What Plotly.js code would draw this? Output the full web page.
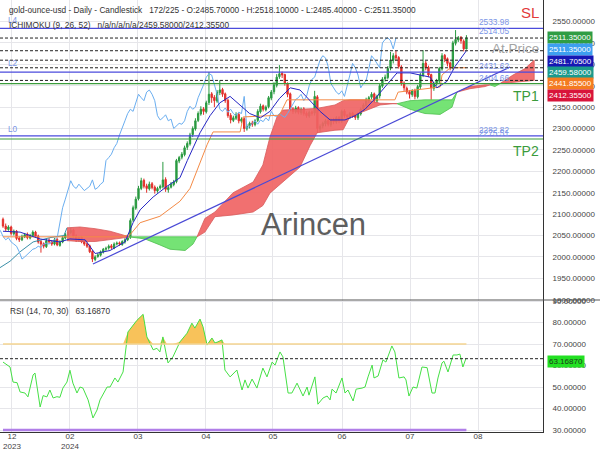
<!DOCTYPE html>
<html><head><meta charset="utf-8">
<script src="https://cdn.plot.ly/plotly-3.0.1.min.js"></script>
<style>html,body{margin:0;padding:0;background:#fff}#chart{width:600px;height:450px}</style>
</head><body><div id="chart"></div>
<script>
// ---------------- DATA ----------------
const openP = [2088,2072,2064,2070,2054,2060,2044,2040,2047,2053,2044,2050,2058,2049,2036,2031,2024,2039,2036,2030,2041,2027,2035,2044,2051,2057,2063,2049,2039,2046,2036,2031,2026,2013,1994,2001,2004,2011,2018,2021,2026,2021,2030,2033,2029,2035,2040,2046,2086,2114,2136,2160,2179,2166,2159,2171,2163,2154,2161,2164,2181,2157,2163,2169,2176,2224,2233,2239,2256,2264,2286,2299,2319,2334,2346,2339,2361,2381,2373,2364,2384,2391,2381,2366,2331,2319,2324,2333,2317,2323,2299,2306,2313,2309,2319,2339,2353,2344,2351,2371,2386,2401,2421,2429,2426,2404,2381,2346,2339,2349,2337,2346,2336,2329,2339,2336,2374,2299,2306,2311,2319,2309,2321,2315,2326,2317,2341,2331,2327,2336,2331,2325,2334,2346,2354,2367,2373,2381,2364,2376,2399,2416,2419,2441,2459,2471,2466,2444,2406,2394,2386,2379,2389,2374,2397,2424,2453,2443,2426,2394,2404,2411,2439,2471,2463,2453,2441,2499,2507,2513,2504,2485.7];
const highP = [2092,2078,2074,2073,2064,2063,2048,2052,2056,2057,2054,2062,2061,2052,2040,2034,2042,2044,2039,2044,2044,2039,2049,2056,2062,2068,2066,2053,2049,2049,2039,2034,2029,2016,2004,2009,2015,2021,2024,2029,2030,2034,2036,2036,2039,2044,2049,2090,2120,2141,2166,2185,2183,2171,2176,2175,2167,2164,2169,2222,2186,2167,2175,2180,2229,2236,2245,2260,2270,2290,2305,2324,2340,2352,2350,2365,2432,2385,2378,2390,2413,2395,2384,2370,2336,2330,2338,2337,2326,2326,2310,2316,2318,2322,2345,2358,2356,2354,2376,2390,2408,2427,2448,2433,2428,2408,2384,2350,2353,2352,2349,2350,2340,2342,2342,2388,2378,2310,2316,2322,2322,2324,2325,2329,2329,2344,2345,2334,2339,2339,2334,2338,2349,2359,2372,2376,2385,2384,2379,2404,2420,2426,2446,2479,2476,2482,2469,2448,2410,2398,2390,2392,2393,2402,2430,2483,2458,2447,2428,2409,2416,2444,2476,2474,2466,2456,2505,2530,2516,2516,2508,2518.1];
const lowP = [2068,2060,2061,2050,2050,2039,2035,2037,2044,2041,2041,2047,2045,2031,2010,2020,2021,2031,2026,2027,2025,2024,2032,2041,2048,2053,2045,2035,2036,2032,2026,2021,2009,1988,1990,1998,2001,2008,2014,2017,2018,2018,2027,2026,2026,2031,2037,2042,2082,2110,2132,2156,2160,2150,2155,2158,2148,2150,2157,2160,2152,2150,2160,2165,2172,2219,2228,2235,2250,2260,2280,2295,2315,2330,2332,2335,2355,2360,2350,2360,2378,2374,2360,2325,2312,2315,2320,2312,2312,2292,2295,2300,2304,2305,2315,2335,2340,2340,2347,2366,2380,2396,2416,2418,2400,2373,2340,2334,2335,2333,2332,2330,2325,2325,2330,2330,2290,2292,2300,2305,2305,2304,2310,2311,2312,2313,2325,2322,2322,2325,2320,2320,2330,2342,2350,2360,2368,2360,2360,2370,2395,2410,2415,2436,2452,2458,2440,2400,2388,2380,2370,2374,2368,2370,2392,2420,2436,2420,2367,2388,2400,2406,2435,2455,2445,2436,2438,2494,2502,2498,2480,2485.4];
const closeP = [2072,2065,2070,2055,2060,2043,2040,2048,2052,2045,2050,2058,2048,2035,2030,2025,2038,2035,2030,2040,2028,2035,2045,2052,2058,2062,2048,2040,2045,2035,2030,2025,2012,1995,2000,2005,2012,2018,2020,2025,2022,2030,2032,2030,2036,2040,2045,2085,2115,2135,2160,2178,2165,2160,2170,2162,2155,2160,2165,2180,2158,2162,2170,2175,2225,2232,2240,2255,2265,2285,2300,2318,2335,2345,2340,2360,2380,2372,2365,2385,2390,2380,2365,2330,2320,2325,2332,2318,2322,2300,2305,2312,2310,2318,2340,2352,2345,2350,2372,2385,2402,2420,2428,2425,2405,2380,2345,2340,2348,2338,2345,2335,2330,2338,2335,2375,2300,2305,2312,2318,2310,2320,2316,2325,2318,2340,2330,2328,2335,2330,2326,2335,2345,2355,2368,2372,2380,2365,2375,2400,2415,2420,2440,2460,2470,2465,2445,2405,2395,2385,2380,2388,2375,2398,2425,2452,2442,2425,2395,2405,2412,2440,2470,2462,2452,2442,2500,2508,2512,2505,2486,2511.35];

const chikouShift = 26;

const tenkanIdx = [0,6.3,13.7,21,24.7,30.3,34,39.5,45,48,50.6,55.4,60.5,65.3,68,72.7,76.4,80,83.8,87.5,91,95,98.5,102,106,109.6,113.3,117,120.7,126.2,130,133.6,137.3,141,145.4,150.2,153.9,157.6,160.1,163.8,166.8,171];
const tenkanVal = [2060,2058,2042,2035,2042,2040,2008,2015,2035,2080,2110,2140,2165,2185,2225,2290,2330,2360,2375,2355,2335,2325,2340,2370,2395,2390,2365,2340,2320,2320,2330,2345,2370,2397,2430,2430,2425,2420,2395,2410,2445,2481.705];

const kijunIdx = [0,43.2,46.9,50.6,57.9,65.3,69,72.7,75.3,77.5,87.5,88.6,102,104.8,144.6,145.8,161.3,162,165,171];
const kijunVal = [2047,2047,2052,2080,2095,2130,2160,2220,2262,2292,2292,2327,2331,2367,2367,2385,2397,2425,2441.855,2441.855];

const leadAIdx = [-1.1,2.6,6.3,11.1,17.3,22.5,23.6];
const leadAVal = [1975,1990,2012,2035,2045,2050,2068];

const cloudIdx = [23.6,28.4,34,39.5,43.9,46.5,52.4,57.9,61.6,67.2,70.1,71.6,74.5,78.2,84.9,92.3,95.9,98.5,101.1,103.3,109.6,113.3,115.9,122.5,125.5,128,134.3,139.1,143.9,145.4,150.2,155.7,161.3,165.7,167.5,172.3,177.9,179.7,181.5,183.4,188.2,192.6,196];
const spanA = [2068,2070,2066,2060,2052,2047,2042,2028,2018,2015,2030,2047,2090,2105,2150,2175,2215,2280,2327,2343,2345,2346,2347,2355,2365,2367,2367,2359,2359,2358,2345,2335,2333,2350,2385,2398,2402,2402,2398,2405,2425,2440,2459.58];
const spanB = [2038,2036,2036,2040,2044,2047,2047,2047,2047,2047,2047,2047,2058,2094,2098,2105,2120,2149,2165,2175,2210,2260,2290,2296,2297,2327,2343,2355,2358,2358,2365,2367,2367,2367,2385,2393,2398,2402,2403,2405,2408,2410,2412.355];

const trendIdx = [33.2,187.1];
const trendVal = [1983.5,2443.7];

const rsiIdx = [0,2.6,3.7,5.2,6.3,8.1,9.2,11.1,11.8,13.7,14.8,16.2,17.3,18.5,19.9,21,22.1,23.6,24.7,25.8,27.3,28.4,29.5,31.4,33.2,34.7,35.8,38.4,39.5,41.3,42.4,44.3,46.1,47.6,49.4,51.7,53.1,55.4,56.8,57.9,59,60.5,60.9,62.7,65.3,67.9,69.7,70.8,72.7,73.8,75.3,77.1,78.2,79.3,80.8,81.9,83.8,86.3,88.2,89.3,90.4,91.9,93.7,95.9,97.4,99.3,100.4,102.2,103.3,105.2,106.6,108.5,109.6,110.7,112.2,112.9,115.1,116.2,118.1,119.6,120.7,121.4,122.9,125.1,126.2,127.3,129.2,130.3,132.5,133.6,134.7,136.2,136.9,138.4,140.2,141.3,143.5,144.6,146.1,148,148.7,149.8,151.3,152.7,154.6,156.5,158.3,159.4,160.5,162,162.7,164.2,166.1,167.5,168.6,169.7,170.8];
const rsiVal = [61.6,59.3,52.3,52,47.7,47.2,45.4,55.6,56.5,40.7,46,45.4,48.6,44.9,45.5,45.2,49.5,52.3,57.8,51.8,47.2,50,49.5,44,35.6,39.3,44,50,50,54.2,52.3,57,75.6,77.9,81,83.8,73.3,67.3,68,66.3,73.3,63.5,61.2,64,71,75,79.7,77.4,81.6,78,69.5,72.8,70.5,71,71.9,57.9,54.7,57.9,48.6,53.3,49.5,53.7,49.5,58.8,54.7,61.6,60.2,66.3,64,47.2,47.2,51.8,48.6,45.8,50,46.2,54.7,42,44.9,45.8,44,49,47.2,54.2,47.2,48.6,43.5,49,49.5,50,54.7,60.2,54.2,55.1,62.6,61.6,69.1,66.3,54.2,54.7,53.3,45.8,50,49.5,59.3,59,47.2,47.2,54.2,61.2,62,57,64.9,64.9,65.3,59.3,63.1687];
const rsiUpper = 70, rsiLower = 30, rsiLast = 63.1687;

const dashedLevels = [2511.35,2481.705,2459.58,2441.855,2412.355];
const blueLevels = [2533.98,2431.62,2282.82];
const blueLevelNames = ["L4","L2","L0"];
const greenLevels = [2404.66,2275.51];
const greenLevelNames = ["TP1","TP2"];
const levelLabelVals = [2533.98,2514.05,2431.62,2404.66,2282.82,2275.51];

const boxVals = ["2511.35000","2511.35000","2481.70500","2459.58000","2441.85500","2412.35500"];
const boxColors = ["#2f9d44","#3d9ff0","#1717b3","#1c9a8c","#f47b20","#d8143a"];

const tickIdx = [3.3,24.7,49.8,74.9,99.6,125.1,150.2,175.3];
const tickText = ["12<br>2023","02<br>2024","03","04","05","06","07","08"];

const titleText = "gold-ounce-usd - Daily - Candlestick   172/225 - O:2485.70000 - H:2518.10000 - L:2485.40000 - C:2511.35000";
const ichiText = "ICHIMOKU (9, 26, 52)   n/a/n/a/n/a/2459.58000/2412.35500";
const rsiText = "RSI (14, 70, 30)   63.16870";

// ---------------- BUILD ----------------
const W = 543, H = 432;           // plot area px
const px = x => x / W, py = y => 1 - y / H;
const FONT = "Liberation Sans, Arial, sans-serif";
const barIdx = closeP.map((_, i) => i);

const traces = [];
// cloud segments
let segs = [], cur = {i:[], a:[], b:[], s:0};
for (let k = 0; k < cloudIdx.length; k++) {
  const d = spanA[k] - spanB[k];
  const s = d > 0 ? 1 : (d < 0 ? -1 : 0);
  cur.i.push(cloudIdx[k]); cur.a.push(spanA[k]); cur.b.push(spanB[k]);
  if (cur.s === 0) cur.s = s;
  if (s === 0 && cur.i.length > 1) {
    segs.push(cur);
    cur = {i:[cloudIdx[k]], a:[spanA[k]], b:[spanB[k]], s:0};
  }
}
if (cur.i.length > 1) segs.push(cur);
segs.forEach(sg => {
  const red = sg.s >= 0;
  traces.push({
    x: sg.i.concat(sg.i.slice().reverse()),
    y: sg.a.concat(sg.b.slice().reverse()),
    xaxis:'x', yaxis:'y', type:'scatter', mode:'lines', fill:'toself',
    fillcolor: red ? 'rgba(240,100,100,0.92)' : 'rgba(110,225,110,0.95)',
    line:{color: red ? '#d85a5a' : '#4cbf4c', width:0.8}, hoverinfo:'skip'
  });
});
traces.push({x: leadAIdx, y: leadAVal, type:'scatter', mode:'lines', line:{color:'#3a8fa8', width:1}, xaxis:'x', yaxis:'y'});
// trend line
traces.push({x: trendIdx, y: trendVal, type:'scatter', mode:'lines', line:{color:'#4a4ad6', width:1.2}, xaxis:'x', yaxis:'y'});
// chikou
traces.push({x: barIdx.map(i => i - chikouShift), y: closeP, type:'scatter', mode:'lines', line:{color:'#6aaef0', width:1}, xaxis:'x', yaxis:'y'});
// kijun
traces.push({x: kijunIdx, y: kijunVal, type:'scatter', mode:'lines', line:{color:'#f48a45', width:1}, xaxis:'x', yaxis:'y'});
// tenkan
traces.push({x: tenkanIdx, y: tenkanVal, type:'scatter', mode:'lines', line:{color:'#2626c4', width:1}, xaxis:'x', yaxis:'y'});
// candles
traces.push({
  type:'candlestick', x: barIdx, open: openP, high: highP, low: lowP, close: closeP,
  xaxis:'x', yaxis:'y',
  increasing:{line:{color:'#2a9a40', width:1}, fillcolor:'#2a9a40'},
  decreasing:{line:{color:'#e2302b', width:1}, fillcolor:'#e2302b'},
  whiskerwidth:0, hoverinfo:'skip'
});
// RSI fill above 70
traces.push({x: rsiIdx, y: rsiIdx.map(() => rsiUpper), type:'scatter', mode:'lines', line:{width:0, color:'rgba(0,0,0,0)'}, xaxis:'x', yaxis:'y2'});
traces.push({x: rsiIdx, y: rsiVal.map(v => Math.max(v, rsiUpper)), type:'scatter', mode:'lines', fill:'tonexty', fillcolor:'#f8c25a', line:{width:0, color:'rgba(0,0,0,0)'}, xaxis:'x', yaxis:'y2'});
traces.push({x: rsiIdx, y: rsiVal, type:'scatter', mode:'lines', line:{color:'#45e045', width:1}, xaxis:'x', yaxis:'y2'});

const shapes = [];
dashedLevels.forEach(v => shapes.push({type:'line', xref:'paper', yref:'y', x0:0, x1:1, y0:v, y1:v, line:{color:'#222', width:1, dash:'3px,2px'}}));
blueLevels.forEach(v => shapes.push({type:'line', xref:'paper', yref:'y', x0:0, x1:1, y0:v, y1:v, line:{color:'#4b4bdc', width:1.2}}));
greenLevels.forEach(v => shapes.push({type:'line', xref:'paper', yref:'y', x0:0, x1:1, y0:v, y1:v, line:{color:'#3b9b3b', width:1.2}}));
// RSI levels
shapes.push({type:'line', xref:'x', yref:'y2', x0:barIdx[0], x1:barIdx[barIdx.length-1], y0:rsiUpper, y1:rsiUpper, line:{color:'#f5d590', width:1.5}});
shapes.push({type:'line', xref:'x', yref:'y2', x0:barIdx[0], x1:barIdx[barIdx.length-1], y0:rsiLower, y1:rsiLower, line:{color:'#b07ee8', width:2.5}});
shapes.push({type:'line', xref:'paper', yref:'y2', x0:0, x1:1, y0:rsiLast, y1:rsiLast, line:{color:'#222', width:1, dash:'3px,2px'}});
// panel separator
shapes.push({type:'line', xref:'paper', yref:'paper', x0:0, x1:600/W, y0:py(300), y1:py(300), line:{color:'#555', width:1}});

const ann = [];
const txt = (x, y, text, size, color, xa, extra) => Object.assign({xref:'paper', yref:'paper', x:x, y:y, text:text, showarrow:false, xanchor:xa||'left', yanchor:'middle', font:{family:FONT, size:size, color:color}}, extra||{});
ann.push(txt(px(7), py(10), titleText, 8.3, '#333'));
ann.push(txt(px(6), py(20), blueLevelNames[0], 8.3, '#7b95e6'));
ann.push(txt(px(7), py(25), ichiText, 8.3, '#333'));
ann.push(txt(px(8), py(311), rsiText, 8.3, '#333'));
ann.push(txt(px(6), py(63.5), blueLevelNames[1], 8.3, '#7b95e6'));
ann.push(txt(px(6), py(129), blueLevelNames[2], 8.3, '#7b95e6'));
levelLabelVals.forEach(v => ann.push({xref:'paper', yref:'y', x:px(494), y:v, text:v.toFixed(2), showarrow:false, xanchor:'center', yanchor:'bottom', yshift:-1, font:{family:FONT, size:8.3, color:'#7b95e6'}}));
ann.push(txt(px(530), py(12), 'SL', 15, '#e23a3a', 'center'));
ann.push(txt(px(515), py(48), 'At.Price', 13.5, '#a3a3a3', 'center'));
ann.push({xref:'paper', yref:'y', x:px(526), y:greenLevels[0], text:greenLevelNames[0], showarrow:false, xanchor:'center', yanchor:'top', yshift:-2, font:{family:FONT, size:14, color:'#3b9b3b'}});
ann.push({xref:'paper', yref:'y', x:px(526), y:greenLevels[1], text:greenLevelNames[1], showarrow:false, xanchor:'center', yanchor:'top', yshift:-2, font:{family:FONT, size:14, color:'#3b9b3b'}});
ann.push(txt(px(313), py(224), 'Arincen', 31, '#5e5e5e', 'center'));
const boxY = [37.5, 49.5, 61, 72.5, 83.5, 95];
boxVals.forEach((t, k) => ann.push(txt(px(547), py(boxY[k]), t, 8, '#fff', 'left', {bgcolor:boxColors[k], borderpad:1})));
ann.push(txt(px(547), py(361), rsiLast.toFixed(5), 8, '#1a3a1a', 'left', {bgcolor:'#22e022', borderpad:1}));

const axFont = {family:FONT, size:8, color:'#444'};
const layout = {
  width:600, height:450, margin:{l:0, r:57, t:0, b:18},
  paper_bgcolor:'#fff', plot_bgcolor:'#fff', showlegend:false,
  xaxis:{range:[-1.107, 199.26], anchor:'y2', tickvals:tickIdx, ticktext:tickText, tickfont:axFont,
    showgrid:true, gridcolor:'#e6e6ea', gridwidth:1, zeroline:false, showline:true, linecolor:'#333', linewidth:1,
    ticks:'', ticklabelstandoff:-4, rangeslider:{visible:false}, fixedrange:true},
  yaxis:{domain:[py(300), 1], range:[1899.4, 2600.2], side:'right', tickvals:[1900,1950,2000,2050,2100,2150,2200,2250,2300,2350,2400,2450,2500,2550],
    tickformat:'.5f', tickfont:axFont, showgrid:true, gridcolor:'#e6e6ea', zeroline:false, showline:true, linecolor:'#333', linewidth:1, ticks:'', ticklabelstandoff:7},
  yaxis2:{domain:[0, py(300)], range:[29.07, 90.47], side:'right', tickvals:[30,40,50,60,70,80,90], tickformat:'.5f', tickfont:axFont,
    showgrid:true, gridcolor:'#e6e6ea', zeroline:false, showline:true, linecolor:'#333', linewidth:1, ticks:'', ticklabelstandoff:7},
  shapes:shapes, annotations:ann
};
Plotly.newPlot('chart', traces, layout, {displayModeBar:false, staticPlot:true});
</script>
</body></html>
